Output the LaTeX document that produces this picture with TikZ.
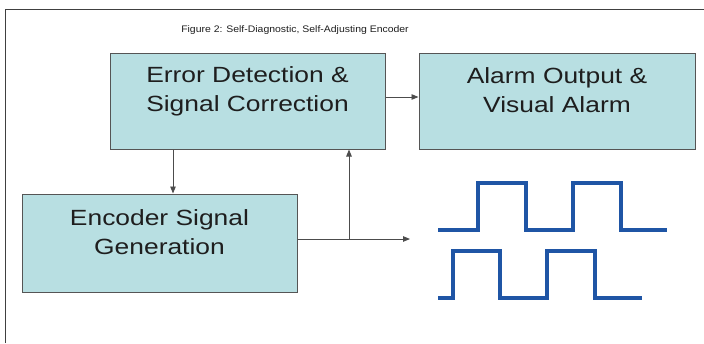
\documentclass[tikz,border=0pt]{standalone}
\usepackage{fontspec}
\setmainfont{Liberation Sans}
\newfontfamily\boxfont[FakeStretch=1.2]{Liberation Sans}
\newfontfamily\titlefont[FakeStretch=1.1]{Liberation Sans}
\usetikzlibrary{arrows.meta}
\definecolor{boxfill}{RGB}{184,223,226}
\definecolor{boxline}{RGB}{85,85,85}
\definecolor{wave}{RGB}{31,85,165}
\definecolor{txt}{RGB}{30,30,30}
\tikzset{
  box/.style={draw=boxline, line width=1pt, fill=boxfill, inner sep=0pt},
  boxtext/.style={anchor=north, inner sep=0pt, align=center, text=txt,
    font=\boxfont\fontsize{22}{29.5}\selectfont},
  arr/.style={draw=black!70, line width=0.9pt, -{Triangle[length=7pt,width=5.5pt]}},
  conn/.style={draw=black!70, line width=0.9pt},
  wavel/.style={draw=wave, line width=4pt, line join=miter, line cap=butt},
  frame/.style={line width=1.5pt},
}
\begin{document}
\begin{tikzpicture}[x=1pt, y=-1pt]
\useasboundingbox (0,0) rectangle (704,343);
% frame
\draw[frame, draw=black!75] (5.5,343) -- (5.5,9.5) -- (704,9.5);
% title
\node[inner sep=0pt, text=txt, font=\titlefont\fontsize{9.5}{11}\selectfont] (title) at (295,30) {Figure 2: Self-Diagnostic, Self-Adjusting Encoder};
% boxes
\node[box, minimum width=275pt, minimum height=96pt] (err) at (247.5,101) {};
\node[box, minimum width=276pt, minimum height=96pt] (alarm) at (557,101) {};
\node[box, minimum width=275pt, minimum height=98pt] (enc) at (159.5,243) {};
\node[boxtext] (errt) at (247.5,66) {Error Detection \&\\Signal Correction};
\node[boxtext] (alarmt) at (557,67) {Alarm Output \&\\Visual Alarm};
\node[boxtext] (enct) at (159.5,209) {Encoder Signal\\Generation};
% connectors
\coordinate (d1) at (173,0);
\coordinate (br) at (349,239);
\coordinate (out) at (410,239);
\draw[arr] ([yshift=4pt]err.east) -- ([yshift=4pt]alarm.west);
\draw[arr] (err.south -| d1) -- (enc.north -| d1);
\draw[arr] ([yshift=4pt]enc.east) -- (out);
\draw[arr] (br) -- (err.south -| br);
% waveforms
\draw[wavel] (438,230) -- (478,230) -- (478,183) -- (526,183) -- (526,230) -- (573,230) -- (573,183) -- (621,183) -- (621,230) -- (667,230);
\draw[wavel] (438,298) -- (453,298) -- (453,251) -- (500,251) -- (500,298) -- (547,298) -- (547,251) -- (595,251) -- (595,298) -- (642,298);
\end{tikzpicture}
\end{document}
